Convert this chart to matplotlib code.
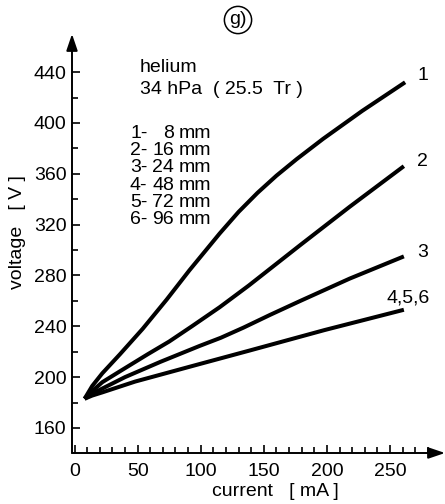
import matplotlib
matplotlib.use("Agg")
import matplotlib.pyplot as plt
from matplotlib.ticker import FixedLocator

plt.rcParams['font.family'] = ['Liberation Sans', 'DejaVu Sans']

# current [mA] vs voltage [V]
curve1_ma = [8, 14, 22, 36, 54, 73, 91, 115, 130, 145, 160, 176, 197, 228, 262]
curve1_v = [183, 193, 203, 218, 238, 261, 284, 313, 330, 345, 358.5, 371.5, 387.5, 409.5, 432]
curve2_ma = [8, 14, 22, 35, 58, 75, 93, 115, 138, 179, 218, 261]
curve2_v = [183, 189, 196, 204, 218, 228, 240, 255, 272, 304, 334, 366]
curve3_ma = [8, 14, 22, 40, 68, 99, 116, 134, 155, 179, 218, 261]
curve3_v = [183, 187, 191, 200, 212, 224.5, 231, 239, 249, 260, 277.5, 295]
curve4_ma = [8, 14, 22, 48, 98, 139, 198, 261]
curve4_v = [183, 185.5, 188, 196.5, 210, 221, 237, 253]

curve_labels = ['1', '2', '3', '4,5,6']
label_offsets = [(12, 7), (13, 5), (13, 4), (4, 12)]

legend_ids = ['1-', '2-', '3-', '4-', '5-', '6-']
legend_mm = ['8', '16', '24', '48', '72', '96']

x_major = [0, 50, 100, 150, 200, 250]
x_minor = [10, 20, 30, 40, 60, 70, 80, 90, 110, 120, 130, 140, 160, 170, 180,
           190, 210, 220, 230, 240, 260, 270, 280]
y_major = [160, 200, 240, 280, 320, 360, 400, 440]
y_minor = [180, 220, 260, 300, 340, 380, 420]

FS = 14
W, H = 445, 504
fig = plt.figure(figsize=(W / 100, H / 100), dpi=100)
ax = fig.add_axes([72 / W, 51 / H, 373 / W, 419 / H])
ax.set_xlim(-2, 293.6)
ax.set_ylim(140.3, 470)

for s in ax.spines.values():
    s.set_visible(False)

# axes drawn as arrows
arrow = dict(arrowstyle='-|>,head_length=0.5,head_width=0.17', color='black',
             lw=1.4, shrinkA=0, shrinkB=0, mutation_scale=20)
ax.annotate('', xy=(0, 1), xytext=(0, 0), xycoords='axes fraction',
            arrowprops=arrow, annotation_clip=False)
ax.annotate('', xy=(1, 0), xytext=(0, 0), xycoords='axes fraction',
            arrowprops=arrow, annotation_clip=False)

ax.xaxis.set_major_locator(FixedLocator(x_major))
ax.xaxis.set_minor_locator(FixedLocator(x_minor))
ax.yaxis.set_major_locator(FixedLocator(y_major))
ax.yaxis.set_minor_locator(FixedLocator(y_minor))
ax.tick_params(which='both', direction='in', width=1.2, labelsize=FS)
ax.tick_params(which='major', length=6)
ax.tick_params(which='minor', length=4)
ax.tick_params(axis='y', pad=4)
ax.tick_params(axis='x', pad=7)

curves = [(curve1_ma, curve1_v), (curve2_ma, curve2_v),
          (curve3_ma, curve3_v), (curve4_ma, curve4_v)]
for (xs, ys), lab, off in zip(curves, curve_labels, label_offsets):
    ax.plot(xs, ys, color='black', lw=2.9, solid_capstyle='butt',
            solid_joinstyle='round')
    ax.annotate(lab, xy=(xs[-1], ys[-1]), xytext=off, textcoords='offset pixels',
                ha='left' if len(lab) == 1 else 'center', va='center', fontsize=FS)

def ft(x, y, s, **kw):
    fig.text(x / W, 1 - y / H, s, fontsize=FS, **kw)

ft(140, 68, 'helium', va='center')
ft(140, 89, '34 hPa  ( 25.5  Tr )', va='center')
for i, (n, mm) in enumerate(zip(legend_ids, legend_mm)):
    y = 133 + i * 17.4
    ft(130, y, n, va='center')
    ft(174, y, mm, va='center', ha='right')
    ft(179, y, 'mm', va='center')

ft(275, 491, 'current   [ mA ]', ha='center', va='center')
ft(18, 232, 'voltage   [ V ]', ha='center', va='center', rotation=90)
ft(238, 20, 'g)', ha='center', va='center',
   bbox=dict(boxstyle='circle,pad=0.25', fc='none', ec='black', lw=1.1))

fig.savefig('out.png', dpi=100)
